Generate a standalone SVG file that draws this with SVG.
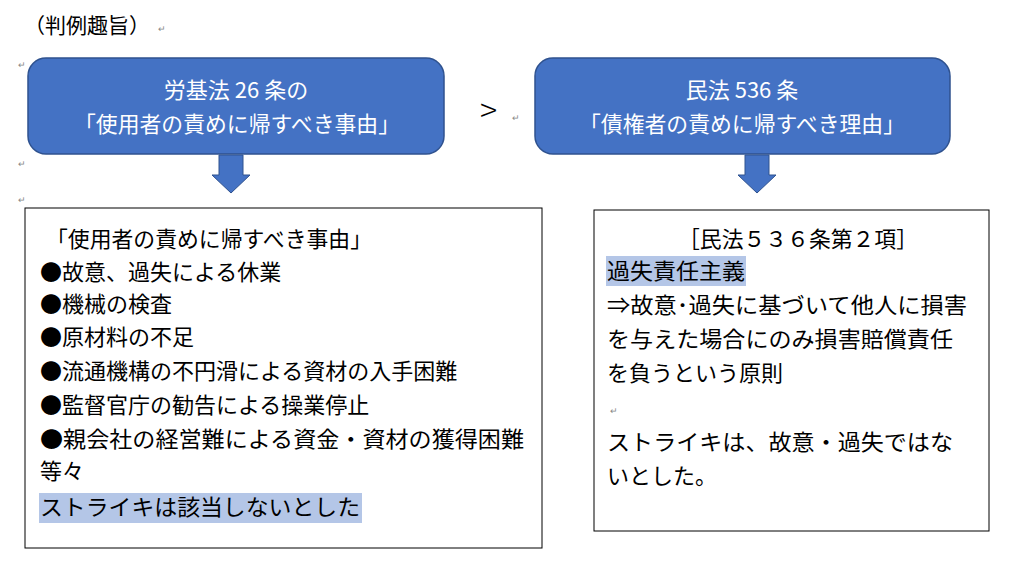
<svg xmlns="http://www.w3.org/2000/svg" width="1024" height="562" viewBox="0 0 1024 562">
<style>
text{font-family:"Noto Sans CJK JP","Noto Sans CJK SC",sans-serif;}
.t{font-size:22px;fill:#000;}
.w{font-size:22px;fill:#fff;text-anchor:middle;}
.m{font-size:9px;fill:#888;}
.box{fill:#4472C4;stroke:#2F528F;stroke-width:1.5;}
.frame{fill:#fff;stroke:#000;stroke-width:1;}
.hl{fill:#B4C6E7;}
.arr{fill:#4472C4;stroke:#2F528F;stroke-width:1;}
</style>
<rect width="1024" height="562" fill="#fff"/>
<text x="24" y="33" style="font-size:21px" fill="#000">（判例趣旨）</text>
<text x="158" y="32" class="m">↵</text>
<text x="18" y="68" class="m">↵</text>
<text x="18" y="167" class="m">↵</text>
<text x="18" y="203" class="m">↵</text>
<g id="node-rokiho">
<rect x="28" y="58" width="416" height="96" rx="18" class="box"/>
<text x="236" y="98" class="w">労基法 26 条の</text>
<text x="237" y="132" class="w" textLength="326" lengthAdjust="spacingAndGlyphs">「使用者の責めに帰すべき事由」</text>
</g>
<text x="480" y="122" style="font-size:32px;font-weight:300" fill="#000">&gt;</text>
<text x="512" y="121" class="m">↵</text>
<g id="node-minpo">
<rect x="535" y="58" width="415" height="96" rx="18" class="box"/>
<text x="742" y="98" class="w">民法 536 条</text>
<text x="742" y="132" class="w" textLength="326" lengthAdjust="spacingAndGlyphs">「債権者の責めに帰すべき理由」</text>
</g>
<g id="connectors">
<path class="arr" d="M219 155 H243 V175 H250 L231 193 L212 175 H219 Z"/>
<path class="arr" d="M745 155 H769 V175 H776 L757 193 L738 175 H745 Z"/>
</g>
<g id="node-left">
<rect x="25" y="208" width="517" height="340" class="frame"/>
<rect x="39" y="493" width="323" height="30" class="hl"/>
<text x="46" y="247" class="t" textLength="326" lengthAdjust="spacingAndGlyphs">「使用者の責めに帰すべき事由」</text>
<text x="40" y="280" class="t">●故意、過失による休業</text>
<text x="40" y="312" class="t">●機械の検査</text>
<text x="40" y="345" class="t">●原材料の不足</text>
<text x="40" y="379" class="t">●流通機構の不円滑による資材の入手困難</text>
<text x="40" y="413" class="t">●監督官庁の勧告による操業停止</text>
<text x="40" y="447" class="t" textLength="484" lengthAdjust="spacingAndGlyphs">●親会社の経営難による資金・資材の獲得困難</text>
<text x="40" y="479" class="t">等々</text>
<text x="40" y="515" class="t" textLength="320" lengthAdjust="spacingAndGlyphs">ストライキは該当しないとした</text>
</g>
<g id="node-right">
<rect x="594" y="210" width="395" height="321" class="frame"/>
<rect x="606" y="256" width="140" height="30" class="hl"/>
<text x="798" y="247" class="t" text-anchor="middle" textLength="240" lengthAdjust="spacingAndGlyphs">［民法５３６条第２項］</text>
<text x="607" y="279" class="t" textLength="138" lengthAdjust="spacingAndGlyphs">過失責任主義</text>
<text x="607" y="313" class="t" textLength="360" lengthAdjust="spacingAndGlyphs">⇒故意･過失に基づいて他人に損害</text>
<text x="607" y="347" class="t" textLength="346" lengthAdjust="spacingAndGlyphs">を与えた場合にのみ損害賠償責任</text>
<text x="607" y="381" class="t">を負うという原則</text>
<text x="610" y="414" class="m">↵</text>
<text x="607" y="450" class="t" textLength="346" lengthAdjust="spacingAndGlyphs">ストライキは、故意・過失ではな</text>
<text x="607" y="484" class="t">いとした。</text>
</g>
</svg>
